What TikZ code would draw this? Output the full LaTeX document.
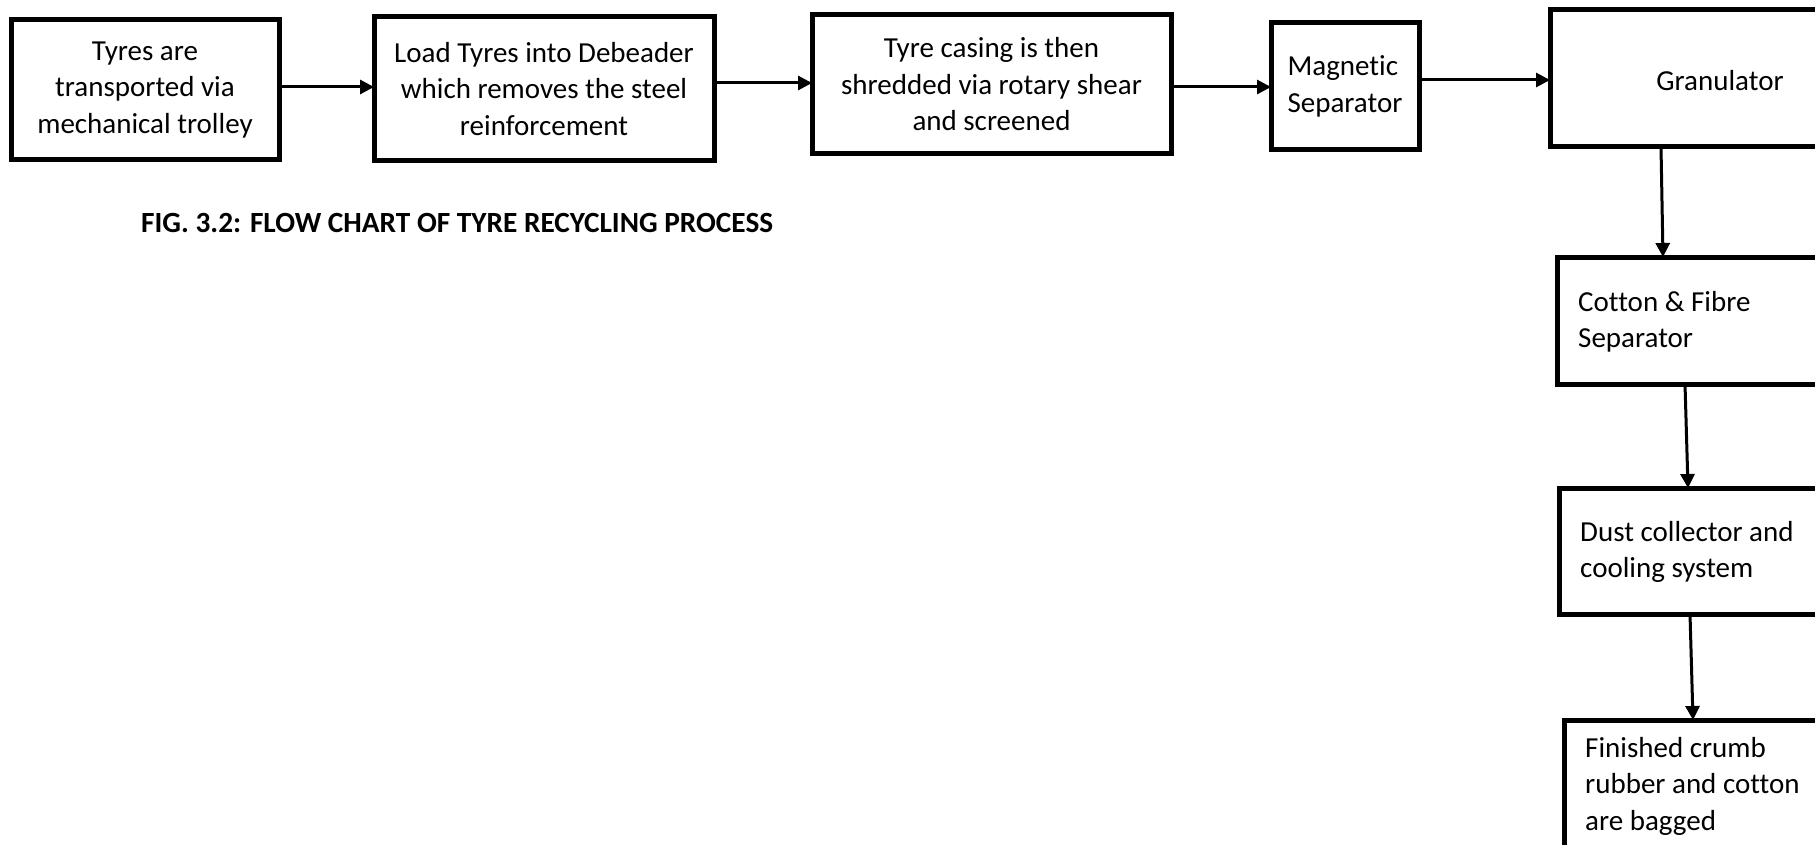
\documentclass[tikz,border=0pt]{standalone}
\usepackage{fontspec}
\setmainfont{Carlito}[Ligatures={NoCommon}]
\usetikzlibrary{arrows.meta,calc}
\begin{document}
\begin{tikzpicture}[x=1pt,y=-1pt,
 box/.style={draw,line width=5pt,inner sep=0pt,outer sep=0pt,anchor=north west,align=center,font=\fontsize{29}{36.5}\selectfont},
 lbl/.style={inner sep=0pt,align=left,anchor=west,font=\fontsize{29}{36.5}\selectfont},
 arr/.style={line width=3pt,-{Triangle[length=14pt,width=14pt]}}]
\useasboundingbox (0,0) rectangle (1815,845);
\clip (0,0) rectangle (1815,845);
\fill[white] (0,0) rectangle (1815,845);
% top row
\node[box,minimum width=268pt,minimum height=140pt] (b1) at (11,20) {Tyres are\\transported via\\mechanical trolley};
\node[box,minimum width=340pt,minimum height=144pt] (b2) at (374,17) {Load Tyres into Debeader\\which removes the steel\\reinforcement};
\node[box,minimum width=359pt,minimum height=139pt] (b3) at (812,15) {Tyre casing is then\\shredded via rotary shear\\and screened};
\node[box,align=left,minimum width=148pt,minimum height=127pt] (b4) at (1271,23) {Magnetic\\Separator};
\node[box,minimum width=280pt,minimum height=137pt] (b5) at (1550,10) {};
\node[lbl,anchor=center] (t5) at (1720,81) {Granulator};
% right column
\node[box,minimum width=273pt,minimum height=127pt] (b6) at (1557,257) {};
\node[lbl] (t6) at (1578,322) {Cotton \& Fibre\\Separator};
\node[box,minimum width=271pt,minimum height=126pt] (b7) at (1559,488) {};
\node[lbl] (t7) at (1580,552) {Dust collector and\\cooling system};
\node[box,minimum width=266pt,minimum height=150pt] (b8) at (1564,720) {};
\node[lbl] (t8) at (1585,786) {Finished crumb\\rubber and cotton\\are bagged};
% caption
\node[inner sep=0pt,anchor=west,font=\bfseries\fontsize{29.3}{34}\selectfont] (cap) at (141,223) {FIG. 3.2: FLOW CHART OF TYRE RECYCLING PROCESS};
% arrows
\draw[arr] ($(b1.north east)+(0,67)$) -- ($(b2.north west)+(0,70)$);
\draw[arr] ($(b2.north east)+(0,66)$) -- ($(b3.north west)+(0,68)$);
\draw[arr] ($(b3.north east)+(0,72)$) -- ($(b4.north west)+(0,64)$);
\draw[arr] ($(b4.north east)+(0,57)$) -- ($(b5.north west)+(0,70)$);
\draw[arr] ($(b5.south west)+(111,0)$) -- ($(b6.north west)+(106,0)$);
\draw[arr] ($(b6.south west)+(128,0)$) -- ($(b7.north west)+(129,0)$);
\draw[arr] ($(b7.south west)+(131,0)$) -- ($(b8.north west)+(129,0)$);
\end{tikzpicture}
\end{document}
